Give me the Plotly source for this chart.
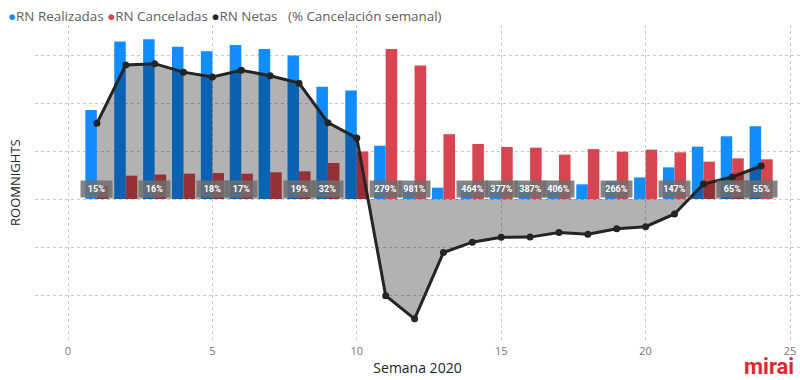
import plotly.graph_objects as go

weeks = list(range(1, 25))
rn_realizadas = [1854, 3280, 3330, 3170, 3080, 3210, 3125, 2990, 2340, 2260, 1110, 283,
                 236, 247, 287, 276, 228, 306, 368, 450, 660, 1090, 1306, 1514]
rn_canceladas = [278, 486, 510, 527, 540, 527, 556, 576, 750, 990, 3125, 2780,
                 1350, 1146, 1083, 1070, 924, 1040, 986, 1028, 972, 778, 847, 826]
rn_netas = [1576, 2794, 2820, 2643, 2540, 2683, 2569, 2414, 1590, 1270, -2015, -2497,
            -1114, -900, -796, -794, -696, -734, -618, -578, -312, 312, 459, 688]
pct_labels = ["15%", "", "16%", "", "18%", "17%", "", "19%", "32%", "", "279%", "981%",
              "", "464%", "377%", "387%", "406%", "", "266%", "", "147%", "", "65%", "55%"]

BLUE = "#118DFF"
RED = "#D64550"
DARK = "#252423"

W, H = 800, 380
ml, mr, mt, mb = 35, 0, 25, 37
pw, ph = W - ml - mr, H - mt - mb


def px_x(v):
    return (v - ml) / pw


def px_y(v):
    return (H - v - mb) / ph


fig = go.Figure()
fig.add_trace(go.Bar(x=weeks, y=rn_realizadas, marker_color=BLUE, name="RN Realizadas",
                     showlegend=False, marker_line_width=0))
fig.add_trace(go.Bar(x=weeks, y=rn_canceladas, marker_color=RED, name="RN Canceladas",
                     showlegend=False, marker_line_width=0))
fig.add_trace(go.Scatter(x=weeks, y=rn_netas, mode="lines+markers", name="RN Netas",
                         line=dict(color=DARK, width=3), marker=dict(size=7, color=DARK),
                         fill="tozeroy", fillcolor="rgba(0,0,0,0.30)", showlegend=False))

annotations = []
for w, t in zip(weeks, pct_labels):
    if t:
        annotations.append(dict(x=w, y=200, xref="x", yref="y", text="<b>" + t + "</b>",
                                showarrow=False, font=dict(family="Roboto", size=9, color="white"),
                                bgcolor="rgba(110,110,110,0.85)", borderpad=2,
                                width=27, height=12))

legend_html = ("<span style='color:#118DFF'>●</span>RN Realizadas "
               "<span style='color:#D64550'>●</span>RN Canceladas "
               "<span style='color:#252423'>●</span>RN Netas"
               "   (% Cancelación semanal)")
annotations.append(dict(x=px_x(6), y=px_y(5), xref="paper", yref="paper", xanchor="left",
                        yanchor="top", text=legend_html, showarrow=False,
                        font=dict(family="Open Sans", size=13.4, color="#605E5C")))
annotations.append(dict(x=px_x(15), y=px_y(183), xref="paper", yref="paper", text="ROOMNIGHTS",
                        textangle=-90, showarrow=False, xanchor="center", yanchor="middle",
                        font=dict(family="Open Sans", size=13, color=DARK)))
annotations.append(dict(x=px_x(796), y=px_y(381), xref="paper", yref="paper", xanchor="right",
                        yanchor="bottom", text="<b>mirai</b>", showarrow=False,
                        font=dict(family="Roboto", size=22, color="#E3262F")))

fig.update_layout(
    width=W, height=H,
    margin=dict(l=ml, r=mr, t=mt, b=mb),
    paper_bgcolor="white", plot_bgcolor="white",
    barmode="group", bargap=0.2, bargroupgap=0,
    annotations=annotations,
    showlegend=False,
    xaxis=dict(range=[-1.143, 25.346], tickvals=[0, 5, 10, 15, 20, 25], showgrid=True,
               gridcolor="#C8C8C8", griddash="dot", gridwidth=1, zeroline=False,
               tickfont=dict(family="Open Sans", size=11, color="#777777"),
               title=dict(text="Semana 2020", font=dict(family="Open Sans", size=14, color=DARK),
                          standoff=6),
               ticks="", showline=False),
    yaxis=dict(range=[-3000, 3625], dtick=1000, tick0=0, showgrid=True, gridcolor="#C8C8C8",
               griddash="dot", gridwidth=1, zeroline=False, showticklabels=False, ticks=""),
)

fig.write_html("out.html")
